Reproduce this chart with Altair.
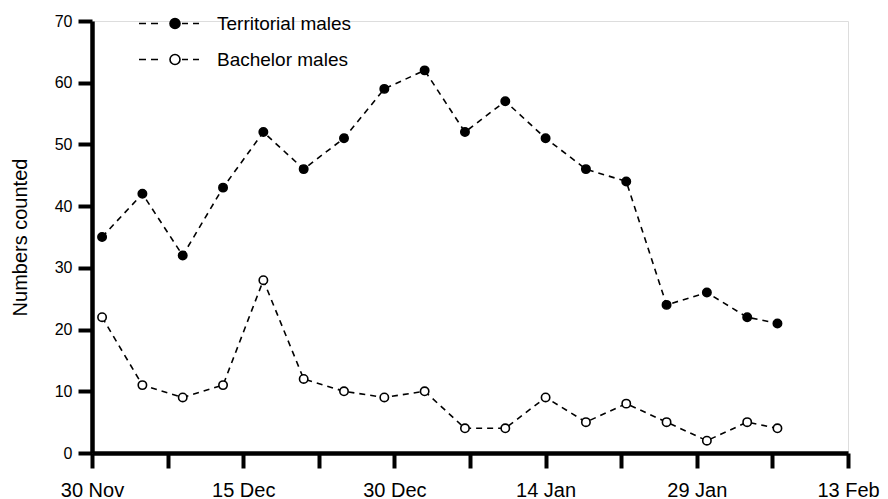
import json
import altair as alt
import pandas as pd

# ---- data ----
start_date = "1990-11-30"
obs_dates = ["1990-12-01", "1990-12-05", "1990-12-09", "1990-12-13", "1990-12-17",
             "1990-12-21", "1990-12-25", "1990-12-29", "1991-01-02", "1991-01-06",
             "1991-01-10", "1991-01-14", "1991-01-18", "1991-01-22", "1991-01-26",
             "1991-01-30", "1991-02-03", "1991-02-06"]
territorial = [35, 42, 32, 43, 52, 46, 51, 59, 62, 52, 57, 51, 46, 44, 24, 26, 22, 21]
bachelor = [22, 11, 9, 11, 28, 12, 10, 9, 10, 4, 4, 9, 5, 8, 5, 2, 5, 4]
series_names = ["Territorial males", "Bachelor males"]
x_tick_days = [0, 7.5, 15, 22.5, 30, 37.5, 45, 52.5, 60, 67.5, 75]
x_tick_labels = ["30 Nov", "", "15 Dec", "", "30 Dec", "", "14 Jan", "", "29 Jan", "", "13 Feb"]
y_ticks = [0, 10, 20, 30, 40, 50, 60, 70]

days = [(pd.Timestamp(d) - pd.Timestamp(start_date)).days for d in obs_dates]
df = pd.DataFrame({
    "day": days * 2,
    "count": territorial + bachelor,
    "series": [series_names[0]] * len(days) + [series_names[1]] * len(days),
})

FONT = "Liberation Sans"
label_expr = json.dumps(x_tick_labels) + "[round(datum.value / 7.5)]"

# legend symbol: dashes with a circle (custom path, unit = 5 px at symbolSize 100)
legend_path = ("M-6,0L-4.6,0M-3.6,0L-2.2,0M2.6,0L3.8,0M4.8,0L6,0"
               "M2.2,0A1,1 0 1,1 0.2,0A1,1 0 1,1 2.2,0Z")

axis_common = dict(grid=False, domainColor="#000000", tickColor="#000000",
                   domainOpacity=1, tickOpacity=1, labelColor="#000000",
                   labelFont=FONT, tickWidth=4, domainWidth=4.5)

x_enc = alt.X("day:Q",
              scale=alt.Scale(domain=[0, 75], nice=False, zero=False),
              axis=alt.Axis(values=x_tick_days, labelExpr=label_expr, title=None,
                            labelFlush=False, labelOverlap=False,
                            labelFontSize=20, labelPadding=12, tickSize=15,
                            **axis_common))
y_enc = alt.Y("count:Q",
              scale=alt.Scale(domain=[0, 70], nice=False),
              axis=alt.Axis(values=y_ticks, title="Numbers counted",
                            labelFontSize=16, labelPadding=6, tickSize=14,
                            titleFontSize=20, titleFont=FONT, titleColor="#000000",
                            titleFontWeight="normal", titlePadding=24,
                            **axis_common))

lines = alt.Chart(df).mark_line(color="black", strokeWidth=1.6, strokeDash=[6, 5]).encode(
    x=x_enc, y=y_enc, detail="series:N")

points = alt.Chart(df).mark_point(filled=True, stroke="black", strokeWidth=1.6,
                                  size=70, opacity=1, shape="circle").encode(
    x=x_enc, y=y_enc,
    fill=alt.Fill("series:N",
                  scale=alt.Scale(domain=series_names, range=["black", "white"]),
                  legend=alt.Legend(title=None, orient="none", legendX=67.5, legendY=-7,
                                    symbolType=legend_path, symbolSize=100,
                                    symbolStrokeColor="black", symbolStrokeWidth=1.6,
                                    symbolOpacity=1, labelOffset=38.5, rowPadding=16,
                                    labelFontSize=19, labelFont=FONT, labelColor="black",
                                    padding=0)),
)

chart = alt.layer(lines, points).properties(
    width=756, height=432,
    padding={"left": 2, "top": 5, "right": 0, "bottom": 0},
).configure_view(strokeWidth=0).configure(background="white")

chart.save("out.html", embed_options={"renderer": "svg", "actions": False})
